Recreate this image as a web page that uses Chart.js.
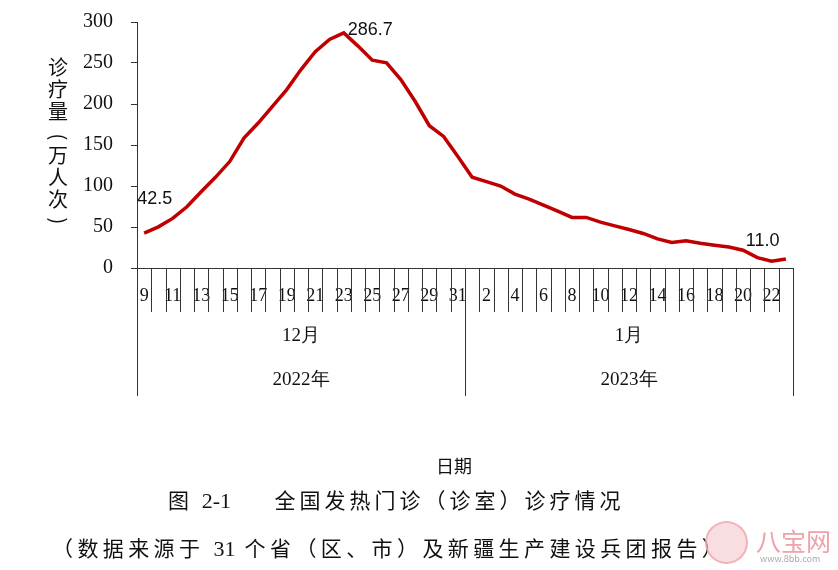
<!DOCTYPE html>
<html>
<head>
<meta charset="utf-8">
<script src="https://cdn.jsdelivr.net/npm/chart.js@4.4.0/dist/chart.umd.min.js"></script>
<style>
body { margin: 0; background: #fff; }
#wrap { position: relative; width: 838px; height: 570px; overflow: hidden; }
.txt { position: absolute; color: #111; white-space: nowrap; font-family: "Noto Sans CJK SC", sans-serif; }
.num { letter-spacing: 0; font-family: "Liberation Serif", serif; font-size: 22px; }
</style>
</head>
<body>
<div id="wrap">
  <canvas id="grafico" width="838" height="570"></canvas>
  <div class="txt" style="left:436px;top:452px;font-size:18px;">日期</div>
  <div class="txt" style="left:168px;top:484px;font-size:21px;letter-spacing:4px;">图 <span class="num">2-1</span>&nbsp;&nbsp;&nbsp;&nbsp;&nbsp;全国发热门诊（诊室）诊疗情况</div>
  <div class="txt" style="left:52px;top:532px;font-size:21px;letter-spacing:4.4px;">（数据来源于 <span class="num">31</span> 个省（区、市）及新疆生产建设兵团报告）</div>
  <div style="position:absolute;left:705px;top:521px;width:43px;height:43px;border-radius:50%;background:rgba(245,200,205,0.6);border:2px solid rgba(240,160,170,0.7);box-sizing:border-box;"></div>
  <div class="txt" style="left:756px;top:522px;font-size:25px;color:#eea2aa;">八宝网</div>
  <div class="txt" style="left:760px;top:552px;font-size:9px;color:#aaa;">www.8bb.com</div>
</div>
<script>
// Dias do eixo x (dez/2022 e jan/2023)
const diasDez = ['9','10','11','12','13','14','15','16','17','18','19','20','21','22','23','24','25','26','27','28','29','30','31'];
const diasJan = ['1','2','3','4','5','6','7','8','9','10','11','12','13','14','15','16','17','18','19','20','21','22','23'];
const meses = ['12月', '1月'];
const anos = ['2022年', '2023年'];

// Valores (万人次)
const valoresDez = [42.5, 50.2, 60.5, 74.7, 93.0, 110.6, 129.8, 158.4, 176.8, 197.0, 217.6, 242.0, 263.7, 278.8, 286.7, 270.6, 253.5, 250.3, 229.8, 203.3, 173.5, 160.4, 135.9];
const valoresJan = [110.7, 105.3, 100.0, 90.2, 84.1, 76.8, 69.4, 61.7, 61.7, 56.0, 51.4, 47.0, 42.1, 35.5, 31.1, 33.1, 30.2, 27.8, 25.7, 21.7, 12.7, 8.2, 11.0];

// Pontos com rótulo
const indicesRotulo = [0, 14, 45];

const rotulos = diasDez.concat(diasJan);
const valores = valoresDez.concat(valoresJan);
const grupos = [diasDez.length, diasJan.length];

// Título vertical; parênteses são girados
const tituloY = ['诊', '疗', '量', '(', '万', '人', '次', ')'];

// Eixo inferior com vários níveis (dias, mês, ano)
const eixoInferior = {
    id: 'eixoInferior',
    afterDraw(chart) {
        const { ctx, scales: { x }, chartArea } = chart;
        const base = chartArea.bottom;
        const passo = x.getPixelForValue(1) - x.getPixelForValue(0);
        const inicio = x.getPixelForValue(0) - passo / 2;

        ctx.save();
        ctx.strokeStyle = '#333';
        ctx.lineWidth = 1;

        // Marcas entre cada dia
        for (let i = 0; i <= rotulos.length; i++) {
            const px = Math.round(inicio + i * passo) + 0.5;
            ctx.beginPath();
            ctx.moveTo(px, base);
            ctx.lineTo(px, base + 44);
            ctx.stroke();
        }

        // Separadores de mês/ano e textos
        ctx.fillStyle = '#111';
        ctx.textAlign = 'center';
        ctx.textBaseline = 'middle';
        ctx.font = '19px "Liberation Serif", serif';
        let acumulado = 0;
        const limites = [0];
        grupos.forEach(n => { acumulado += n; limites.push(acumulado); });
        limites.forEach(l => {
            const px = Math.round(inicio + l * passo) + 0.5;
            ctx.beginPath();
            ctx.moveTo(px, base);
            ctx.lineTo(px, base + 128);
            ctx.stroke();
        });
        for (let g = 0; g < grupos.length; g++) {
            const cx = inicio + (limites[g] + limites[g + 1]) / 2 * passo;
            ctx.fillText(meses[g], cx, base + 68);
            ctx.fillText(anos[g], cx, base + 112);
        }

        // Título vertical do eixo y
        ctx.font = '20px "Noto Sans CJK SC", sans-serif';
        tituloY.forEach((c, i) => {
            const cy = 67 + i * 22;
            if (c === '(' || c === ')') {
                ctx.save();
                ctx.translate(59, cy + (c === '(' ? 4 : 0));
                ctx.rotate(Math.PI / 2);
                ctx.fillText(c, 0, 0);
                ctx.restore();
            } else {
                ctx.fillText(c, 58, cy);
            }
        });

        // Rótulos de dados
        const meta = chart.getDatasetMeta(0);
        ctx.font = '18px "Liberation Sans", sans-serif';
        ctx.textAlign = 'left';
        const desloc = { 0: [-7, -34], 14: [4, -3], 45: [-40, -18] };
        indicesRotulo.forEach(i => {
            const p = meta.data[i];
            const d = desloc[i];
            ctx.fillText(valores[i].toFixed(1), p.x + d[0], p.y + d[1]);
        });
        ctx.restore();
    }
};

const ctxGrafico = document.getElementById('grafico');
new Chart(ctxGrafico, {
    type: 'line',
    data: {
        labels: rotulos,
        datasets: [{
            label: '诊疗量',
            data: valores,
            borderColor: '#C00000',
            borderWidth: 3.5,
            pointRadius: 0,
            tension: 0,
            fill: false
        }]
    },
    options: {
        responsive: false,
        animation: false,
        layout: { padding: { top: 22, right: 45, left: 0, bottom: 0 } },
        plugins: {
            legend: { display: false },
            tooltip: { enabled: false }
        },
        scales: {
            x: {
                type: 'category',
                offset: true,
                afterFit: s => { s.height = 302; },
                grid: { drawOnChartArea: false, drawTicks: false },
                border: { display: true, color: '#333', width: 1 },
                ticks: {
                    autoSkip: false,
                    maxRotation: 0,
                    padding: 17,
                    color: '#111',
                    font: { family: '"Liberation Serif", serif', size: 18 },
                    callback: (v, i) => (i % 2 === 0 ? rotulos[i] : '')
                }
            },
            y: {
                min: 0,
                max: 300,
                afterFit: s => { s.width = 137; s.paddingTop = 0; s.paddingBottom = 0; },
                grid: { drawOnChartArea: false, drawTicks: true, tickLength: 6, color: '#333' },
                border: { display: true, color: '#333', width: 1 },
                ticks: {
                    stepSize: 50,
                    padding: 18,
                    color: '#111',
                    font: { family: '"Liberation Serif", serif', size: 20 }
                }
            }
        }
    },
    plugins: [eixoInferior]
});
</script>
</body>
</html>
